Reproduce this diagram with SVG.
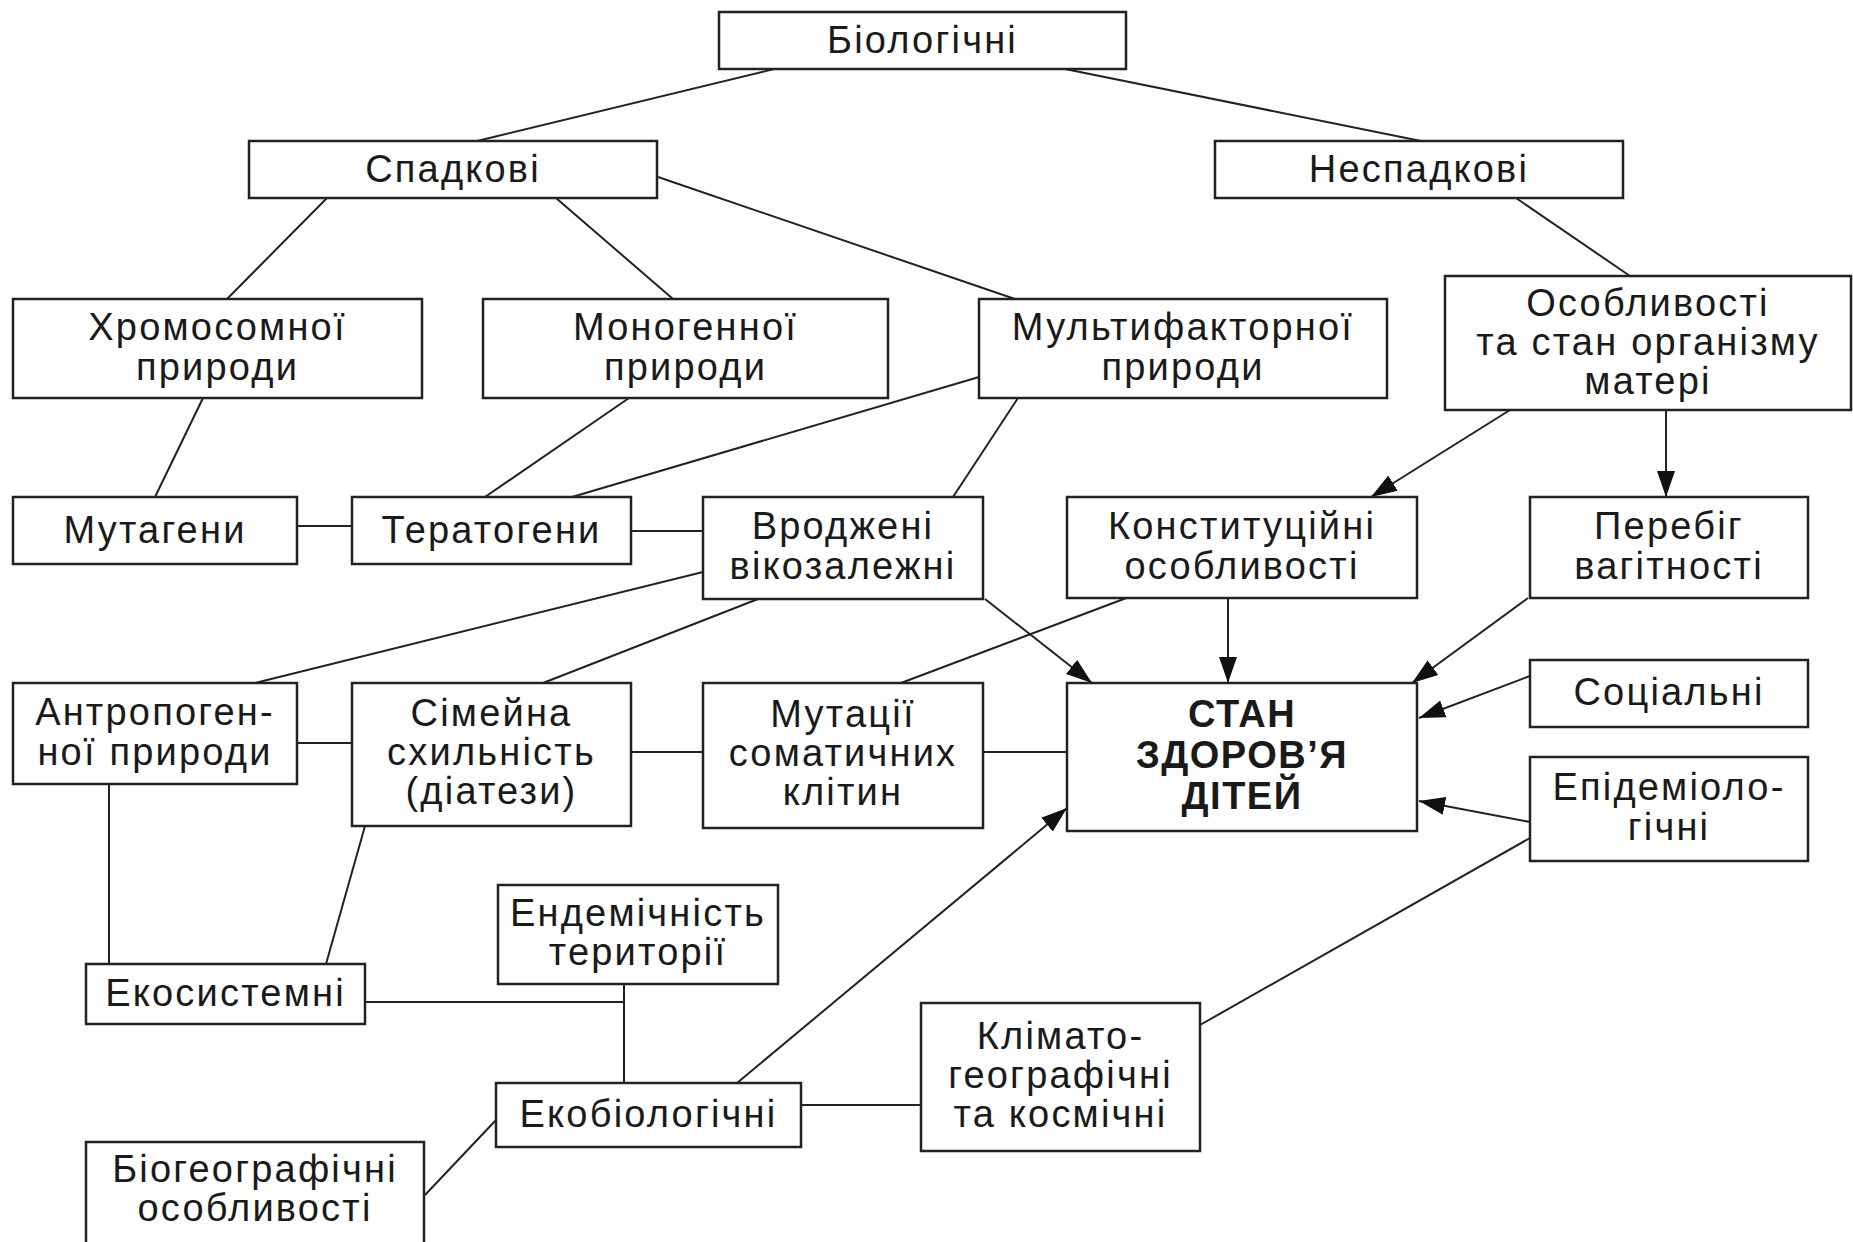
<svg xmlns="http://www.w3.org/2000/svg" width="1853" height="1242" viewBox="0 0 1853 1242">
<style>
.n rect{fill:#fff;stroke:#222;stroke-width:2.5}
.n text{font-family:"Liberation Sans",Arial,sans-serif;font-size:38px;fill:#1a1a1a;text-anchor:middle;letter-spacing:2.2px}
.n text.b{font-weight:bold;font-size:38px;letter-spacing:1.5px}
.c line,.c polyline{stroke:#222;stroke-width:2;fill:none}
</style>
<defs>
<marker id="ar" markerUnits="userSpaceOnUse" markerWidth="28" markerHeight="20" refX="26" refY="9" orient="auto" viewBox="0 0 28 18">
<path d="M0,0 L26,9 L0,18 Z" fill="#111"/>
</marker>
</defs>
<rect width="1853" height="1242" fill="#fff"/>
<g class="c" id="connectors">
<line x1="774" y1="69" x2="477" y2="141"/>
<line x1="1065" y1="69" x2="1421" y2="141"/>
<line x1="327" y1="198" x2="227" y2="299"/>
<line x1="556" y1="198" x2="673" y2="299"/>
<line x1="658" y1="177" x2="1015" y2="299"/>
<line x1="1516" y1="198" x2="1630" y2="276"/>
<line x1="203" y1="398" x2="155" y2="497"/>
<line x1="629" y1="398" x2="485" y2="497"/>
<line x1="979" y1="377" x2="572" y2="497"/>
<line x1="1018" y1="398" x2="953" y2="497"/>
<line x1="297" y1="526" x2="352" y2="526"/>
<line x1="631" y1="531" x2="703" y2="531"/>
<line x1="703" y1="572" x2="255" y2="683"/>
<line x1="758" y1="599" x2="543" y2="683"/>
<line x1="1129" y1="597" x2="901" y2="683"/>
<line x1="985" y1="599" x2="1092" y2="683" marker-end="url(#ar)"/>
<line x1="1510" y1="410" x2="1371" y2="497" marker-end="url(#ar)"/>
<line x1="1666" y1="410" x2="1666" y2="497" marker-end="url(#ar)"/>
<line x1="1228" y1="598" x2="1228" y2="683" marker-end="url(#ar)"/>
<line x1="1528" y1="598" x2="1412" y2="683" marker-end="url(#ar)"/>
<line x1="1530" y1="676" x2="1419" y2="718" marker-end="url(#ar)"/>
<line x1="1530" y1="822" x2="1419" y2="801" marker-end="url(#ar)"/>
<line x1="983" y1="752" x2="1067" y2="752"/>
<line x1="631" y1="752" x2="703" y2="752"/>
<line x1="297" y1="743" x2="352" y2="743"/>
<line x1="109" y1="784" x2="109" y2="964"/>
<line x1="365" y1="826" x2="326" y2="964"/>
<polyline points="365,1002 624,1002"/>
<line x1="624" y1="984" x2="624" y2="1083"/>
<line x1="737" y1="1083" x2="1067" y2="808" marker-end="url(#ar)"/>
<line x1="496" y1="1120" x2="425" y2="1195"/>
<line x1="801" y1="1105" x2="921" y2="1105"/>
<line x1="1200" y1="1025" x2="1530" y2="838"/>
</g>
<g class="n" id="n-biologichni"><rect x="719" y="12" width="407" height="57"/><text x="922.5" y="53">Біологічні</text></g>
<g class="n" id="n-spadkovi"><rect x="249" y="141" width="408" height="57"/><text x="453" y="182">Спадкові</text></g>
<g class="n" id="n-nespadkovi"><rect x="1215" y="141" width="408" height="57"/><text x="1419" y="182">Неспадкові</text></g>
<g class="n" id="n-khromosomnoi"><rect x="13" y="299" width="409" height="99"/><text x="217.5" y="340">Хромосомної</text><text x="217.5" y="380">природи</text></g>
<g class="n" id="n-monohennoi"><rect x="483" y="299" width="405" height="99"/><text x="685.5" y="340">Моногенної</text><text x="685.5" y="380">природи</text></g>
<g class="n" id="n-multyfaktornoi"><rect x="979" y="299" width="408" height="99"/><text x="1183" y="340">Мультифакторної</text><text x="1183" y="380">природи</text></g>
<g class="n" id="n-osoblyvosti-materi"><rect x="1445" y="276" width="406" height="134"/><text x="1648" y="316">Особливості</text><text x="1648" y="355">та стан організму</text><text x="1648" y="394">матері</text></g>
<g class="n" id="n-mutaheny"><rect x="13" y="497" width="284" height="67"/><text x="155" y="543">Мутагени</text></g>
<g class="n" id="n-teratoheny"><rect x="352" y="497" width="279" height="67"/><text x="491.5" y="543">Тератогени</text></g>
<g class="n" id="n-vrodzheni"><rect x="703" y="497" width="280" height="102"/><text x="843" y="539">Вроджені</text><text x="843" y="579">вікозалежні</text></g>
<g class="n" id="n-konstytutsiini"><rect x="1067" y="497" width="350" height="101"/><text x="1242" y="539">Конституційні</text><text x="1242" y="579">особливості</text></g>
<g class="n" id="n-perebih"><rect x="1530" y="497" width="278" height="101"/><text x="1669" y="539">Перебіг</text><text x="1669" y="579">вагітності</text></g>
<g class="n" id="n-antropohennoi"><rect x="13" y="683" width="284" height="101"/><text x="155" y="725">Антропоген-</text><text x="155" y="765">ної природи</text></g>
<g class="n" id="n-simeina"><rect x="352" y="683" width="279" height="143"/><text x="491.5" y="726">Сімейна</text><text x="491.5" y="765">схильність</text><text x="491.5" y="804">(діатези)</text></g>
<g class="n" id="n-mutatsii"><rect x="703" y="683" width="280" height="145"/><text x="843" y="727">Мутації</text><text x="843" y="766">соматичних</text><text x="843" y="805">клітин</text></g>
<g class="n" id="n-stan"><rect x="1067" y="683" width="350" height="148"/><text class="b" x="1242" y="727">СТАН</text><text class="b" x="1242" y="768">ЗДОРОВ’Я</text><text class="b" x="1242" y="809">ДІТЕЙ</text></g>
<g class="n" id="n-sotsialni"><rect x="1530" y="660" width="278" height="67"/><text x="1669" y="705">Соціальні</text></g>
<g class="n" id="n-epidemiolohichni"><rect x="1530" y="757" width="278" height="104"/><text x="1669" y="800">Епідеміоло-</text><text x="1669" y="840">гічні</text></g>
<g class="n" id="n-endemichnist"><rect x="498" y="885" width="280" height="99"/><text x="638" y="926">Ендемічність</text><text x="638" y="965">території</text></g>
<g class="n" id="n-ekosystemni"><rect x="86" y="964" width="279" height="60"/><text x="225.5" y="1006">Екосистемні</text></g>
<g class="n" id="n-ekobiolohichni"><rect x="496" y="1083" width="305" height="64"/><text x="648.5" y="1127">Екобіологічні</text></g>
<g class="n" id="n-bioheohrafichni"><rect x="86" y="1142" width="338" height="115"/><text x="255" y="1182">Біогеографічні</text><text x="255" y="1221">особливості</text></g>
<g class="n" id="n-klimato"><rect x="921" y="1003" width="279" height="148"/><text x="1060.5" y="1049">Клімато-</text><text x="1060.5" y="1088">географічні</text><text x="1060.5" y="1127">та космічні</text></g>
</svg>
